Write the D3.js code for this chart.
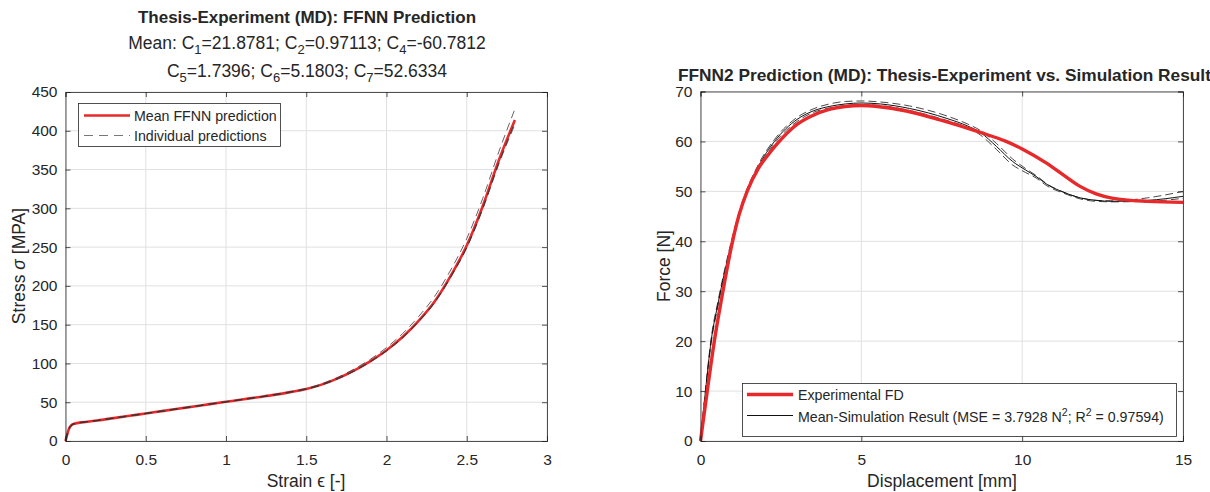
<!DOCTYPE html>
<html><head><meta charset="utf-8">
<script src="https://cdn.jsdelivr.net/npm/d3@7"></script>
<style>
body{margin:0;background:#fff;}
svg{font-family:"Liberation Sans",Arial,sans-serif;}
</style></head>
<body><svg id="c" width="1210" height="492"></svg>
<script>
// ---- Left chart data (strain, stress) ----
const strain = [0,0.01,0.02,0.035,0.06,0.1,0.2,0.3,0.4,0.5,0.6,0.7,0.8,0.9,1.0,1.1,1.2,1.3,1.4,1.5,1.6,1.7,1.8,1.9,2.0,2.1,2.2,2.3,2.4,2.5,2.6,2.7,2.8];
const meanStress = [0,8,15,20,22.5,24,26.5,29.5,32.5,35.5,38.5,41.5,44.5,47.5,50.5,53.5,56.5,59.5,63,67,73,81,91,103,117,134,155,180,213,252,303,362,414];
const indStressA = [0,9,16,20.5,22.8,24.2,26.8,29.8,32.8,35.8,38.8,41.8,44.8,47.8,50.8,53.8,56.8,60,63.6,67.8,74,82.5,93,105.5,120.5,138.5,160.5,186.5,220.5,261,313,373,428];
const indStressB = [0,7.5,14.5,19.5,22.2,23.8,26.3,29.3,32.3,35.3,38.3,41.3,44.3,47.3,50.3,53.3,56.3,59.3,62.8,66.8,72.6,80.5,90.3,102.2,116,133,154,178.5,211,249,299,357,408];
const indStressC = [0,8,15,20,22.5,24,26.5,29.5,32.5,35.5,38.5,41.5,44.5,47.5,50.5,53.5,56.5,59.5,63,67,72.8,80.7,90.6,102.6,116.5,133.5,154.5,179,212,250,301,359,411];
const xTicksL = [0,0.5,1,1.5,2,2.5,3];
const yTicksL = [0,50,100,150,200,250,300,350,400,450];

// ---- Right chart data (displacement, force) ----
const dispExp = [0,0.2,0.43,0.67,0.98,1.2,1.45,1.8,2.1,2.38,3.0,3.42,4.0,4.5,5.0,5.5,6.4,7.45,8.7,9.5,10.0,10.77,11.3,11.8,12.3,12.83,13.9,15];
const forceExp = [0,9.5,20,29,39.5,45.3,50,54.6,57.3,59.5,63.4,65,66.4,67,67.2,67,66.1,64.3,61.8,60,58.5,55.6,53.2,51,49.5,48.6,48,47.8];
const dispSim = [0,0.155,0.33,0.56,0.9,1.3,1.8,2.3,3.0,3.5,4.0,4.5,5.0,5.6,6.5,7.66,8.3,8.7,9.2,9.7,10.1,10.43,10.77,11.3,11.8,12.3,12.83,13.9,15];
const forceSim = [0,10,20,28,38,47.5,55,60,64.4,66.1,67,67.5,67.7,67.5,66.6,64.6,63.1,61.8,59,56,54.3,53,51.4,49.8,48.7,48.2,48,48.2,49];
const forceSimA = [0,10.3,20.5,28.5,38.5,47.9,55.4,60.4,64.8,66.5,67.5,68,68.1,67.9,67.1,65.1,63.5,62.2,59.6,56.5,54.6,53.2,51.5,49.8,48.7,48.2,48.1,48.7,50];
const forceSimB = [0,9.7,19.5,27.5,37.4,47.1,54.6,59.6,64,65.8,66.7,67.2,67.4,67.2,66.2,64.2,62.8,61.3,58.4,55.3,53.8,52.7,51.1,49.6,48.5,48.0,47.9,48.0,48.6];
const xTicksR = [0,5,10,15];
const yTicksR = [0,10,20,30,40,50,60,70];

const svg = d3.select("#c");
const AX = "#262626", GRID = "#e0e0e0", RED = "#e8292b";
const TICKFS = "15.5px", LABFS = "17.5px", LEGFS = "14.2px";

function grid(g, x, y, xt, yt) {
  const [x0, x1] = x.range(), [y0, y1] = y.range();
  g.append("g").selectAll("line").data(xt).join("line")
    .attr("x1", d => x(d)).attr("x2", d => x(d)).attr("y1", y0).attr("y2", y1)
    .attr("stroke", GRID).attr("stroke-width", 1);
  g.append("g").selectAll("line").data(yt).join("line")
    .attr("y1", d => y(d)).attr("y2", d => y(d)).attr("x1", x0).attr("x2", x1)
    .attr("stroke", GRID).attr("stroke-width", 1);
}
function frame(g, x, y, xt, yt, fmtX, fmtY) {
  const [x0, x1] = x.range(), [y0, y1] = y.range();
  const tl = 5;
  const b = g.append("g").attr("transform", `translate(0,${y0})`)
    .call(d3.axisBottom(x).tickValues(xt).tickSize(-tl).tickPadding(13).tickFormat(fmtX));
  const t = g.append("g").attr("transform", `translate(0,${y1})`)
    .call(d3.axisTop(x).tickValues(xt).tickSize(-tl).tickFormat(""));
  const l = g.append("g").attr("transform", `translate(${x0},0)`)
    .call(d3.axisLeft(y).tickValues(yt).tickSize(-tl).tickPadding(8).tickFormat(fmtY));
  const r = g.append("g").attr("transform", `translate(${x1},0)`)
    .call(d3.axisRight(y).tickValues(yt).tickSize(-tl).tickFormat(""));
  [b, t, l, r].forEach(a => {
    a.selectAll("path").attr("stroke", AX).attr("stroke-width", 0.8);
    a.selectAll("line").attr("stroke", AX).attr("stroke-width", 0.8);
    a.selectAll("text").attr("fill", AX).style("font-size", TICKFS).style("font-family", "Liberation Sans, Arial, sans-serif");
  });
}

// ---------- Left chart ----------
const xL = d3.scaleLinear().domain([0, 3]).range([65.5, 547]);
const yL = d3.scaleLinear().domain([0, 450]).range([441, 92]);
const gL = svg.append("g");
grid(gL, xL, yL, xTicksL, yTicksL);
const lineL = d3.line().x(d => xL(d[0])).y(d => yL(d[1])).curve(d3.curveMonotoneX);
gL.append("path").datum(strain.map((s, i) => [s, meanStress[i]]))
  .attr("d", lineL).attr("fill", "none").attr("stroke", RED).attr("stroke-width", 2.6);
[indStressA, indStressB, indStressC].forEach(arr => {
  gL.append("path").datum(strain.map((s, i) => [s, arr[i]]))
    .attr("d", lineL).attr("fill", "none").attr("stroke", "#333").attr("stroke-width", 0.9)
    .attr("stroke-dasharray", "8,5").attr("opacity", 0.85);
});
frame(gL, xL, yL, xTicksL, yTicksL, d => d3.format("")(d), d => d);

// left titles
svg.append("text").attr("x", 307).attr("y", 23).attr("text-anchor", "middle")
  .style("font-size", "17px").style("font-weight", "bold").attr("fill", AX)
  .text("Thesis-Experiment (MD): FFNN Prediction");
function subLine(yy, parts) {
  const t = svg.append("text").attr("x", 307).attr("y", yy).attr("text-anchor", "middle")
    .style("font-size", "17.5px").attr("fill", AX);
  parts.forEach(p => {
    if (p.sub) t.append("tspan").attr("dy", 5).style("font-size", "13px").text(p.sub);
    const ts = t.append("tspan").text(p.t);
    if (p.sub) ts.attr("dy", -5);
  });
}
subLine(49, [{t: "Mean: C"}, {sub: "1", t: "=21.8781; C"}, {sub: "2", t: "=0.97113; C"}, {sub: "4", t: "=-60.7812"}]);
subLine(77, [{t: "C"}, {sub: "5", t: "=1.7396; C"}, {sub: "6", t: "=5.1803; C"}, {sub: "7", t: "=52.6334"}]);

// left axis labels
svg.append("text").attr("x", 306).attr("y", 487).attr("text-anchor", "middle")
  .style("font-size", LABFS).attr("fill", AX)
  .html('Strain <tspan>ϵ</tspan> [-]');
svg.append("text").attr("transform", "translate(25,266) rotate(-90)").attr("text-anchor", "middle")
  .style("font-size", LABFS).attr("fill", AX)
  .html('Stress <tspan font-style="italic">σ</tspan> [MPA]');

// left legend
const lgL = svg.append("g");
lgL.append("rect").attr("x", 78.5).attr("y", 103.5).attr("width", 202).attr("height", 43)
  .attr("fill", "#fff").attr("stroke", AX).attr("stroke-width", 0.8);
lgL.append("line").attr("x1", 84).attr("x2", 130).attr("y1", 115.5).attr("y2", 115.5)
  .attr("stroke", RED).attr("stroke-width", 2.6);
lgL.append("line").attr("x1", 84).attr("x2", 130).attr("y1", 135.5).attr("y2", 135.5)
  .attr("stroke", "#777").attr("stroke-width", 1).attr("stroke-dasharray", "9,6");
lgL.append("text").attr("x", 134).attr("y", 120.5).style("font-size", LEGFS).attr("fill", AX).text("Mean FFNN prediction");
lgL.append("text").attr("x", 134).attr("y", 140.5).style("font-size", LEGFS).attr("fill", AX).text("Individual predictions");

// ---------- Right chart ----------
const xR = d3.scaleLinear().domain([0, 15]).range([700.5, 1183]);
const yR = d3.scaleLinear().domain([0, 70]).range([441, 91.5]);
const gR = svg.append("g");
grid(gR, xR, yR, xTicksR, yTicksR);
const lineR = d3.line().x(d => xR(d[0])).y(d => yR(d[1])).curve(d3.curveMonotoneX);
[forceSimA, forceSimB].forEach(arr => {
  gR.append("path").datum(dispSim.map((s, i) => [s, arr[i]]))
    .attr("d", lineR).attr("fill", "none").attr("stroke", "#333").attr("stroke-width", 0.9)
    .attr("stroke-dasharray", "8,4");
});
gR.append("path").datum(dispSim.map((s, i) => [s, forceSim[i]]))
  .attr("d", lineR).attr("fill", "none").attr("stroke", "#111").attr("stroke-width", 1);
gR.append("path").datum(dispExp.map((s, i) => [s, forceExp[i]]))
  .attr("d", lineR).attr("fill", "none").attr("stroke", RED).attr("stroke-width", 3.4);
frame(gR, xR, yR, xTicksR, yTicksR, d => d, d => d);

svg.append("text").attr("x", 678).attr("y", 80.5).attr("text-anchor", "start")
  .style("font-size", "17.3px").style("font-weight", "bold").attr("fill", AX)
  .text("FFNN2 Prediction (MD): Thesis-Experiment vs. Simulation Result");
svg.append("text").attr("x", 942).attr("y", 487).attr("text-anchor", "middle")
  .style("font-size", LABFS).attr("fill", AX).text("Displacement [mm]");
svg.append("text").attr("transform", "translate(670,266) rotate(-90)").attr("text-anchor", "middle")
  .style("font-size", LABFS).attr("fill", AX).text("Force [N]");

// right legend
const lgR = svg.append("g");
lgR.append("rect").attr("x", 742.5).attr("y", 383.5).attr("width", 434).attr("height", 53)
  .attr("fill", "#fff").attr("stroke", AX).attr("stroke-width", 0.8);
lgR.append("line").attr("x1", 747).attr("x2", 793).attr("y1", 394.5).attr("y2", 394.5)
  .attr("stroke", RED).attr("stroke-width", 3.4);
lgR.append("line").attr("x1", 747).attr("x2", 793).attr("y1", 415.5).attr("y2", 415.5)
  .attr("stroke", "#111").attr("stroke-width", 1);
lgR.append("text").attr("x", 798).attr("y", 400).style("font-size", LEGFS).attr("fill", AX).text("Experimental FD");
lgR.append("text").attr("x", 798).attr("y", 421.5).style("font-size", LEGFS).attr("fill", AX)
  .html('Mean-Simulation Result (MSE = 3.7928 N<tspan dy="-6" font-size="10.5px">2</tspan><tspan dy="6">; R</tspan><tspan dy="-6" font-size="10.5px">2</tspan><tspan dy="6"> = 0.97594)</tspan>');
</script></body></html>
